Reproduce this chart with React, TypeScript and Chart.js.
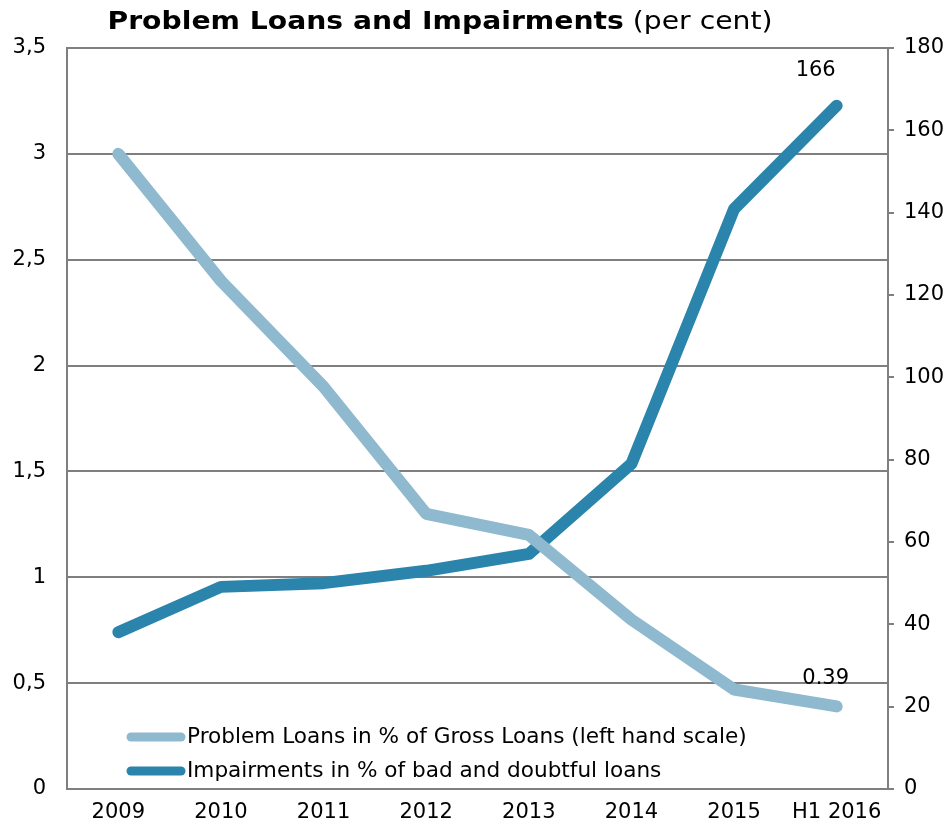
import React, { useEffect, useRef } from "react";
import { Chart, registerables } from "chart.js";

Chart.register(...registerables);

const categories = ["2009", "2010", "2011", "2012", "2013", "2014", "2015", "H1 2016"];
const problemLoans = [3.0, 2.4, 1.9, 1.3, 1.2, 0.8, 0.47, 0.39];
const impairments = [38.1, 49.1, 50.0, 53.0, 57.1, 79.0, 140.9, 166];
const seriesLabels = [
  "Problem Loans in % of Gross Loans (left hand scale)",
  "Impairments in % of bad and doubtful loans",
];
const endLabels = ["0.39", "166"];
const titleBold = "Problem Loans and Impairments";
const titleNormal = " (per cent)";

const FONT = "'DejaVu Sans', Verdana, sans-serif";
const LIGHT = "#8FB9CE";
const DARK = "#2A84AB";
const AXIS = "#7F7F7F";

const overlayPlugin = {
  id: "overlay",
  afterDraw(chart: any) {
    const ctx = chart.ctx;
    ctx.save();
    // title, fitted horizontally to the reference width
    ctx.fillStyle = "#000";
    ctx.textBaseline = "middle";
    ctx.textAlign = "left";
    ctx.font = `bold 25px ${FONT}`;
    const wb = ctx.measureText(titleBold).width;
    ctx.font = `25px ${FONT}`;
    const wn = ctx.measureText(titleNormal).width;
    const target = 665;
    const sx = target / (wb + wn);
    const x0 = 440 - target / 2;
    ctx.save();
    ctx.translate(x0, 22);
    ctx.scale(sx, 1);
    ctx.font = `bold 25px ${FONT}`;
    ctx.fillText(titleBold, 0, 0);
    ctx.font = `25px ${FONT}`;
    ctx.fillText(titleNormal, wb, 0);
    ctx.restore();

    // end labels
    ctx.font = `21px ${FONT}`;
    ctx.textAlign = "center";
    ctx.textBaseline = "middle";
    chart.data.datasets.forEach((ds: any, i: number) => {
      const meta = chart.getDatasetMeta(i);
      const pt = meta.data[meta.data.length - 1];
      if (!pt) return;
      const dx = i === 0 ? -11 : -21;
      const dy = i === 0 ? -28 : -35;
      ctx.fillText(endLabels[i], pt.x + dx, pt.y + dy);
    });

    // legend
    const lx0 = 131;
    const lx1 = 181;
    const ys = [737, 771];
    chart.data.datasets.forEach((ds: any, i: number) => {
      ctx.strokeStyle = ds.borderColor;
      ctx.lineWidth = 9;
      ctx.lineCap = "round";
      ctx.beginPath();
      ctx.moveTo(lx0, ys[i]);
      ctx.lineTo(lx1, ys[i]);
      ctx.stroke();
      ctx.fillStyle = "#000";
      ctx.textAlign = "left";
      ctx.textBaseline = "middle";
      ctx.font = `21.6px ${FONT}`;
      ctx.fillText(ds.label, 187, ys[i]);
    });
    ctx.restore();
  },
};

export default function App() {
  const ref = useRef<HTMLCanvasElement | null>(null);
  useEffect(() => {
    if (!ref.current) return;
    const chart = new Chart(ref.current, {
      type: "line",
      data: {
        labels: categories,
        datasets: [
          {
            label: seriesLabels[0],
            data: problemLoans,
            yAxisID: "y",
            borderColor: LIGHT,
            backgroundColor: LIGHT,
            borderWidth: 12,
            pointRadius: 0,
            tension: 0,
            borderCapStyle: "round",
            borderJoinStyle: "round",
          },
          {
            label: seriesLabels[1],
            data: impairments,
            yAxisID: "y1",
            borderColor: DARK,
            backgroundColor: DARK,
            borderWidth: 12,
            pointRadius: 0,
            tension: 0,
            borderCapStyle: "round",
            borderJoinStyle: "round",
          },
        ],
      },
      options: {
        animation: false,
        responsive: false,
        maintainAspectRatio: false,
        layout: { padding: { top: 48, left: 0, right: 0, bottom: 0 } },
        plugins: {
          legend: { display: false },
          title: { display: false },
          tooltip: { enabled: false },
        },
        scales: {
          x: {
            offset: true,
            grid: { display: false, drawTicks: false },
            border: { display: true, color: AXIS, width: 2 },
            ticks: { color: "#000", font: { family: FONT, size: 21 }, padding: 11, maxRotation: 0, autoSkip: false },
            afterFit: (s: any) => { s.height = 39; },
          },
          y: {
            position: "left",
            min: 0,
            max: 3.5,
            ticks: {
              stepSize: 0.5,
              color: "#000",
              font: { family: FONT, size: 21 },
              padding: 21,
              callback: (v: any) => String(v).replace(".", ","),
            },
            grid: { color: AXIS, lineWidth: 2, drawTicks: false },
            border: { display: true, color: AXIS, width: 2 },
            afterFit: (s: any) => { s.width = 67; },
          },
          y1: {
            position: "right",
            min: 0,
            max: 180,
            ticks: {
              stepSize: 20,
              color: "#000",
              font: { family: FONT, size: 21 },
              padding: 10,
            },
            grid: { drawOnChartArea: false, drawTicks: true, tickLength: 6, color: AXIS, lineWidth: 2 },
            border: { display: true, color: AXIS, width: 2 },
            afterFit: (s: any) => { s.width = 62; },
          },
        },
      } as any,
      plugins: [overlayPlugin],
    });
    return () => chart.destroy();
  }, []);
  return (
    <div style={{ position: "fixed", left: 0, top: 0, width: 950, height: 828, background: "#fff" }}>
      <canvas ref={ref} width={950} height={828} style={{ width: 950, height: 828 }} />
    </div>
  );
}
